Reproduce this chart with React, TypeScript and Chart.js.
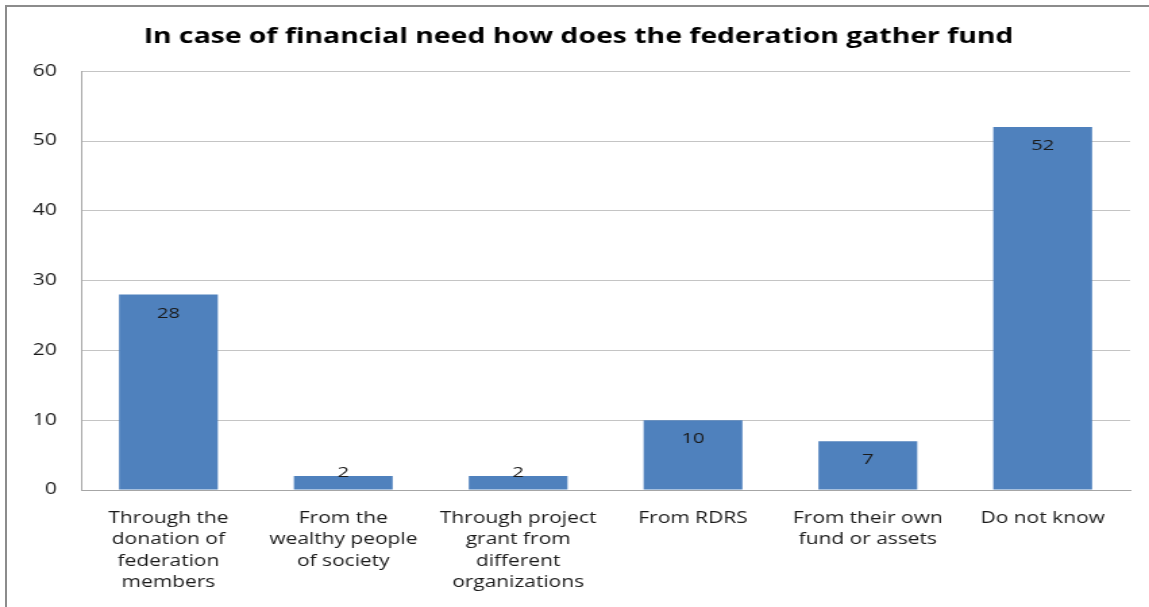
import React, { useEffect, useRef } from "react";
import { Chart, registerables } from "chart.js";

Chart.register(...registerables);

const TITLE = "In case of financial need how does the federation gather fund";
const categories: string[][] = [
  ["Through the", "donation of", "federation", "members"],
  ["From the", "wealthy people", "of society"],
  ["Through project", "grant from", "different", "organizations"],
  ["From RDRS"],
  ["From their own", "fund or assets"],
  ["Do not know"],
];
const values: number[] = [28, 2, 2, 10, 7, 52];
const yTicks: number[] = [0, 10, 20, 30, 40, 50, 60];

const SX = 1.35;
const W = 1149;
const H = 607;
const CW = Math.round(W / SX);
const FONT = "'Open Sans', 'DejaVu Sans', sans-serif";

const labelPlugin = {
  id: "barLabels",
  afterDatasetsDraw(chart: any) {
    const ctx = chart.ctx;
    const meta = chart.getDatasetMeta(0);
    ctx.save();
    ctx.font = `15px ${FONT}`;
    ctx.fillStyle = "#1a1a1a";
    ctx.textAlign = "center";
    ctx.textBaseline = "middle";
    meta.data.forEach((el: any, i: number) => {
      const y = Math.min(el.y + 19, el.base - 17);
      ctx.fillText(String(values[i]), el.x, y);
    });
    ctx.restore();
  },
};

export default function App() {
  const ref = useRef<HTMLCanvasElement | null>(null);
  useEffect(() => {
    if (!ref.current) return;
    const chart = new Chart(ref.current, {
      type: "bar",
      data: {
        labels: categories,
        datasets: [
          {
            data: values,
            backgroundColor: "#4F81BD",
            borderWidth: 0,
            barPercentage: 0.565,
            categoryPercentage: 1,
          },
        ],
      },
      options: {
        responsive: false,
        animation: false,
        layout: { padding: { left: 20, right: 14, top: 0, bottom: 0 } },
        plugins: {
          legend: { display: false },
          tooltip: { enabled: false },
          title: {
            display: true,
            text: TITLE,
            color: "#000",
            font: { family: FONT, size: 21, weight: "bold" },
            padding: { top: 24, bottom: 22 },
          },
        },
        scales: {
          x: {
            grid: { display: false, drawTicks: false },
            border: { display: true, color: "#a6a6a6" },
            ticks: {
              color: "#1a1a1a",
              font: { family: FONT, size: 15.5, lineHeight: 1.37 },
              padding: 18,
              autoSkip: false,
              maxRotation: 0,
              minRotation: 0,
            },
            afterFit(scale: any) {
              scale.height = 117;
            },
          },
          y: {
            min: 0,
            max: 60,
            afterBuildTicks(scale: any) {
              scale.ticks = yTicks.map((v) => ({ value: v }));
            },
            grid: { color: "#c4c4c4", drawTicks: false },
            border: { display: true, color: "#a6a6a6" },
            ticks: {
              color: "#1a1a1a",
              font: { family: FONT, size: 15.5 },
              padding: 18,
            },
            afterFit(scale: any) {
              scale.width = 40;
            },
          },
        },
      },
      plugins: [labelPlugin],
    });
    return () => chart.destroy();
  }, []);

  return (
    <div
      style={{
        position: "absolute",
        left: 0,
        top: 0,
        width: W,
        height: H,
        overflow: "hidden",
        background: "#fff",
      }}
    >
      <div
        style={{
          position: "absolute",
          left: 0,
          top: 0,
          width: CW,
          height: H,
          transform: `scaleX(${W / CW})`,
          transformOrigin: "0 0",
        }}
      >
        <canvas ref={ref} width={CW} height={H} style={{ display: "block" }} />
      </div>
      <div
        style={{
          position: "absolute",
          left: 5,
          top: 5,
          width: W + 20,
          height: H + 20,
          borderLeft: "2px solid #8c8c8c",
          borderTop: "2px solid #8c8c8c",
          pointerEvents: "none",
        }}
      />
    </div>
  );
}
